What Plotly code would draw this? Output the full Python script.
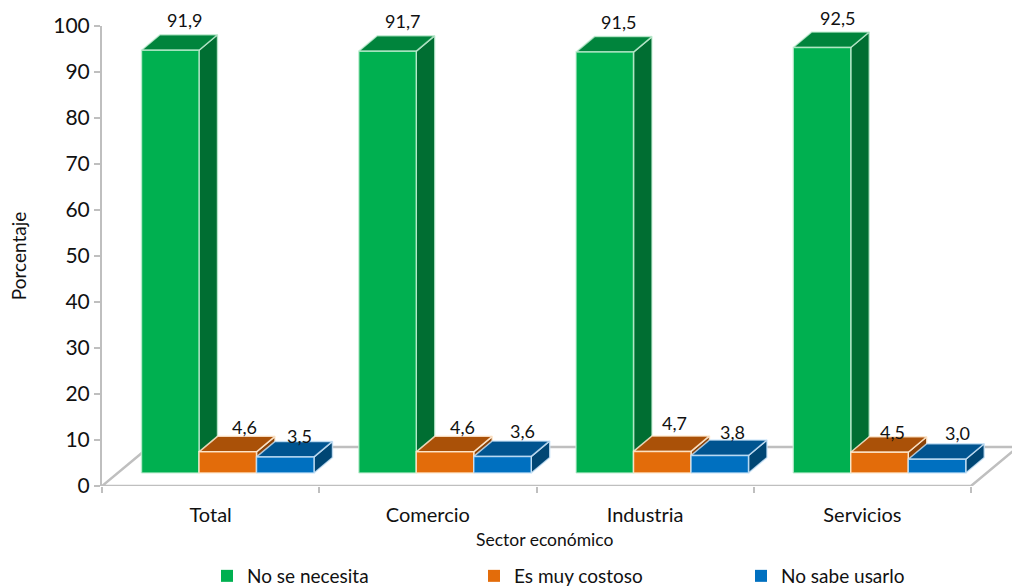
import plotly.graph_objects as go

# ---- data ----
categories = ["Total", "Comercio", "Industria", "Servicios"]
no_se_necesita = [91.9, 91.7, 91.5, 92.5]
es_muy_costoso = [4.6, 4.6, 4.7, 4.5]
no_sabe_usarlo = [3.5, 3.6, 3.8, 3.0]
series_names = ["No se necesita", "Es muy costoso", "No sabe usarlo"]
y_ticks = [0, 10, 20, 30, 40, 50, 60, 70, 80, 90, 100]

# ---- geometry (axis units) ----
PX_X = 217.25          # px per category
PX_Y = 4.6             # px per percent
BASE = 13 / PX_Y       # bars stand on the floor, in front of the wall
START = 39.5 / PX_X    # first bar offset inside a category
W = 57.5 / PX_X        # bar width
DX, DY = 18.5 / PX_X, 15.5 / PX_Y  # bar depth
FX, FY = 47 / PX_X, 39 / PX_Y      # floor depth
XMAX = 910 / PX_X

faces = [
    ("#00B050", "#00843C", "#006E32", "rgba(200,240,215,0.75)"),
    ("#E36C0A", "#AA5108", "#8A4207", "rgba(255,235,210,0.85)"),
    ("#0070C0", "#005490", "#004674", "rgba(205,230,250,0.8)"),
]
# data label offsets from the front-top centre of a bar (px), as hand placed in the source
label_dx = [[14, 15, 14, 15], [17, 17, 12, 13], [14, 20, 13, 20]]
label_dy = [[30, 30, 30, 30], [25, 25, 28, 20], [21, 25, 23.5, 26]]
values = [no_se_necesita, es_muy_costoso, no_sabe_usarlo]

fig = go.Figure()
GRID = "#BFBFBF"

# floor outline and the back wall base line
fig.add_trace(go.Scatter(
    x=[FX, 0, 4, 4 + FX, None, FX, XMAX],
    y=[FY, 0, 0, FY, None, FY, FY],
    mode="lines", line=dict(color=GRID, width=2.5),
    showlegend=False, hoverinfo="skip", cliponaxis=False))


def polys(kind, s):
    xs, ys = [], []
    for c, v in enumerate(values[s]):
        x0 = c + START + s * W
        x1 = x0 + W
        y0 = BASE
        y1 = BASE + v
        if kind == "side":
            px = [x1, x1 + DX, x1 + DX, x1, x1]
            py = [y1, y1 + DY, y0 + DY, y0, y1]
        elif kind == "top":
            px = [x0, x0 + DX, x1 + DX, x1, x0]
            py = [y1, y1 + DY, y1 + DY, y1, y1]
        else:
            px = [x0, x1, x1, x0, x0]
            py = [y0, y0, y1, y1, y0]
        xs += px + [None]
        ys += py + [None]
    return xs, ys


for s in range(3):
    front, top, side, edge = faces[s]
    for kind, col in (("side", side), ("top", top), ("front", front)):
        xs, ys = polys(kind, s)
        fig.add_trace(go.Scatter(
            x=xs, y=ys, mode="lines", fill="toself", fillcolor=col,
            line=dict(color=edge, width=1.5),
            showlegend=False, hoverinfo="skip", cliponaxis=False))

# legend entries
for s in range(3):
    fig.add_trace(go.Scatter(
        x=[None], y=[None], mode="markers", name=series_names[s],
        marker=dict(symbol="square", size=12, color=faces[s][0])))

# data labels (paper y so the tallest labels above 100 stay visible)
annots = []
for s in range(3):
    for c, v in enumerate(values[s]):
        annots.append(dict(
            x=c + START + (s + 0.5) * W + label_dx[s][c] / PX_X,
            y=(BASE + v + label_dy[s][c] / PX_Y) / 100,
            xref="x", yref="paper", text=f"{v:.1f}".replace(".", ","),
            showarrow=False, xanchor="center", yanchor="middle",
            font=dict(size=18, color="#111111")))

annots.append(dict(
    text="Sector económico", xref="paper", yref="paper",
    x=(545 - 102) / 910, y=-(539 - 486) / 460, xanchor="center",
    yanchor="middle", showarrow=False, font=dict(size=17.5)))

fig.update_layout(
    width=1012, height=588,
    margin=dict(l=102, r=0, t=26, b=102, autoexpand=False),
    paper_bgcolor="white", plot_bgcolor="white",
    font=dict(family="Lato, sans-serif", color="#111111"),
    xaxis=dict(
        range=[0, XMAX], showgrid=False, zeroline=False, showline=False,
        tickmode="array", tickvals=[0.5, 1.5, 2.5, 3.5], ticktext=categories,
        ticks="", tickfont=dict(size=20), ticklabelstandoff=15,
        minor=dict(tickmode="array", tickvals=[0, 1, 2, 3, 4], ticks="outside",
                   ticklen=6, tickwidth=1.5, tickcolor=GRID, showgrid=False),
    ),
    yaxis=dict(
        range=[0, 100], showgrid=False, zeroline=False, showline=True,
        linecolor=GRID, linewidth=2, tickmode="array", tickvals=y_ticks,
        ticks="outside", ticklen=6, tickwidth=1.5, tickcolor=GRID,
        tickfont=dict(size=21),
        title=dict(text="Porcentaje", font=dict(size=19), standoff=22),
    ),
    legend=dict(
        orientation="h", x=(207 - 102) / 910, xanchor="left",
        y=-(557 - 486) / 460, yanchor="top", entrywidth=222, entrywidthmode="pixels",
        font=dict(size=19), bgcolor="rgba(0,0,0,0)",
    ),
    annotations=annots,
)
fig.write_html("out.html", default_width="1012px", default_height="588px",
               config={"displayModeBar": False},
               post_script="document.body.style.margin='0';document.documentElement.style.overflow='hidden';")
